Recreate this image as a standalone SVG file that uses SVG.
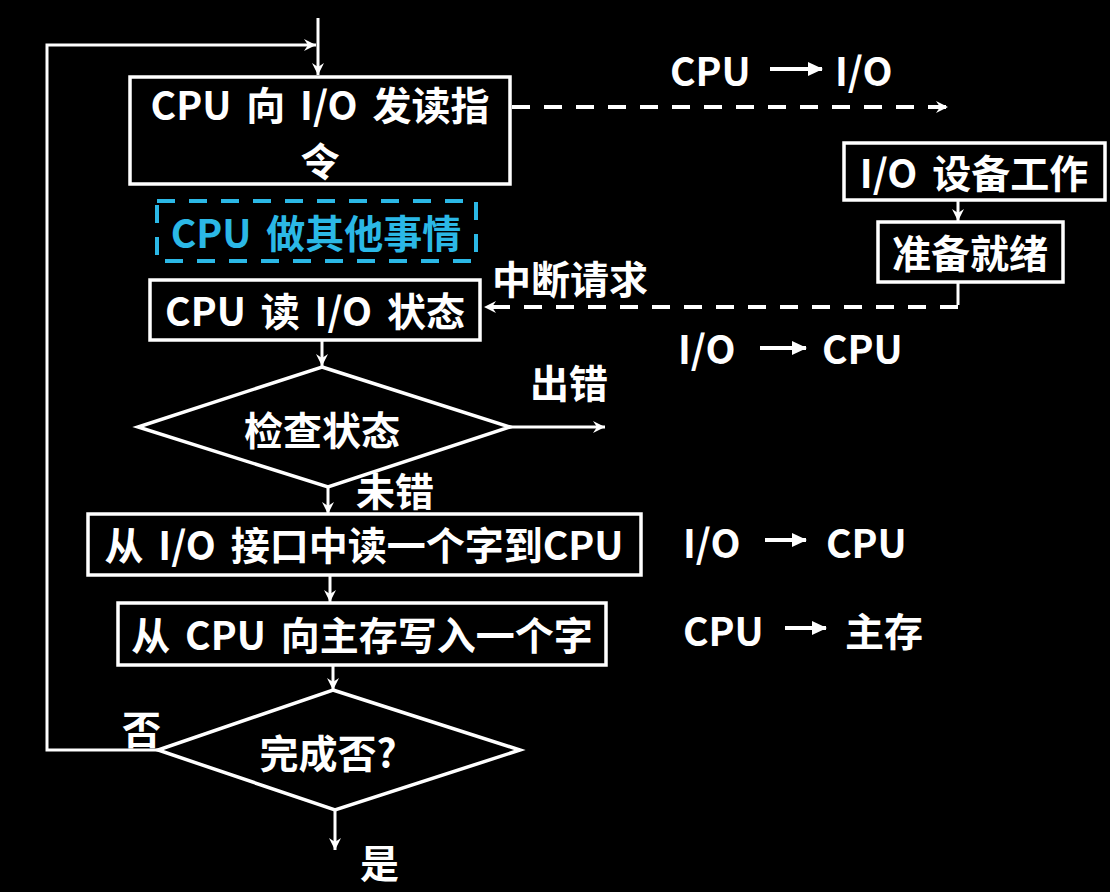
<svg xmlns="http://www.w3.org/2000/svg" width="1110" height="892" viewBox="0 0 1110 892">
<defs>
<marker id="ah" markerWidth="14" markerHeight="14" refX="12" refY="6" orient="auto" markerUnits="userSpaceOnUse">
<path d="M0,0 L12,6 L0,12 L4,6 Z" fill="#fff"/>
</marker>
<marker id="tri" markerWidth="16" markerHeight="14" refX="14" refY="7" orient="auto" markerUnits="userSpaceOnUse">
<path d="M0,0 L15,7 L0,14 Z" fill="#fff"/>
</marker>
</defs>
<style>
.box{fill:#000;stroke:#fff;stroke-width:3.5}
.line{fill:none;stroke:#fff;stroke-width:3}
.dash{fill:none;stroke:#fff;stroke-width:4;stroke-dasharray:18,14}
.t{font-family:"Noto Sans CJK SC","Liberation Sans",sans-serif;font-weight:700;font-size:39px;word-spacing:6px;fill:#fff;text-anchor:middle;dominant-baseline:central}
.l{text-anchor:start}
.cyan{fill:#2bb8e6}
</style>
<rect width="1110" height="892" fill="#000"/>

<g id="connectors">
<line class="line" x1="318" y1="18" x2="318" y2="75" marker-end="url(#ah)"/>
<path class="line" d="M160,750 H47 V45 H316" marker-end="url(#ah)"/>
<path d="M160,750 l12,-6 l-4,6 l4,6 z" fill="#fff"/>
<line class="dash" x1="512" y1="107" x2="948" y2="107" marker-end="url(#ah)"/>
<line class="line" x1="958" y1="200" x2="958" y2="221" stroke-width="1.5" marker-end="url(#ah)"/>
<path class="line" d="M958,282 V305"/>
<line class="dash" x1="958" y1="307" x2="484" y2="307" marker-end="url(#ah)"/>
<line class="line" x1="322" y1="340" x2="322" y2="366" marker-end="url(#ah)"/>
<line class="line" x1="510" y1="427" x2="605" y2="427" marker-end="url(#ah)"/>
<line class="line" x1="328" y1="487" x2="328" y2="514" marker-end="url(#ah)"/>
<line class="line" x1="330" y1="575" x2="330" y2="602" marker-end="url(#ah)"/>
<line class="line" x1="333" y1="665" x2="333" y2="690" marker-end="url(#ah)"/>
<line class="line" x1="335" y1="810" x2="335" y2="850" marker-end="url(#ah)"/>
</g>

<g id="n_send">
<rect class="box" x="130" y="77" width="380" height="107"/>
<text class="t" x="320" y="103"><tspan x="320" y="103">CPU 向 I/O 发读指</tspan><tspan x="320" y="159">令</tspan></text>
</g>

<g id="n_other">
<rect x="157" y="201" width="319" height="60" fill="none" stroke="#2bb8e6" stroke-width="4" stroke-dasharray="18,14"/>
<text class="t cyan" x="316" y="231">CPU 做其他事情</text>
</g>

<g id="n_readstatus">
<rect class="box" x="150" y="280" width="330" height="60"/>
<text class="t" x="315" y="309">CPU 读 I/O 状态</text>
</g>

<g id="n_check">
<polygon class="box" points="322,367 510,427 328,487 138,427"/>
<text class="t" x="322" y="428">检查状态</text>
</g>

<g id="n_readword">
<rect class="box" x="88" y="514" width="553" height="61"/>
<text class="t" x="364" y="543">从 I/O 接口中读一个字到CPU</text>
</g>

<g id="n_write">
<rect class="box" x="118" y="603" width="488" height="62"/>
<text class="t" x="362" y="633">从 CPU 向主存写入一个字</text>
</g>

<g id="n_done">
<polygon class="box" points="333,690 520,750 335,810 158,750"/>
<text class="t" x="328" y="751">完成否?</text>
</g>

<g id="n_iowork">
<rect class="box" x="844" y="143" width="261" height="57"/>
<text class="t" x="974" y="171">I/O 设备工作</text>
</g>

<g id="n_ready">
<rect class="box" x="878" y="222" width="185" height="60"/>
<text class="t" x="970" y="251">准备就绪</text>
</g>

<g id="labels">
<text class="t l" x="670" y="69">CPU</text>
<line x1="770" y1="69" x2="822" y2="69" stroke="#fff" stroke-width="4" marker-end="url(#tri)"/>
<text class="t l" x="835" y="69">I/O</text>
<text class="t l" x="492" y="277">中断请求</text>
<text class="t l" x="678" y="347">I/O</text>
<line x1="760" y1="348" x2="806" y2="348" stroke="#fff" stroke-width="4" marker-end="url(#tri)"/>
<text class="t l" x="822" y="347">CPU</text>
<text class="t l" x="530" y="381">出错</text>
<text class="t l" x="356" y="489">未错</text>
<text class="t l" x="683" y="541">I/O</text>
<line x1="765" y1="540" x2="806" y2="540" stroke="#fff" stroke-width="4" marker-end="url(#tri)"/>
<text class="t l" x="826" y="541">CPU</text>
<text class="t l" x="683" y="629">CPU</text>
<line x1="785" y1="628" x2="826" y2="628" stroke="#fff" stroke-width="4" marker-end="url(#tri)"/>
<text class="t l" x="845" y="629">主存</text>
<text class="t l" x="122" y="727">否</text>
<text class="t l" x="360" y="861">是</text>
</g>
</svg>
